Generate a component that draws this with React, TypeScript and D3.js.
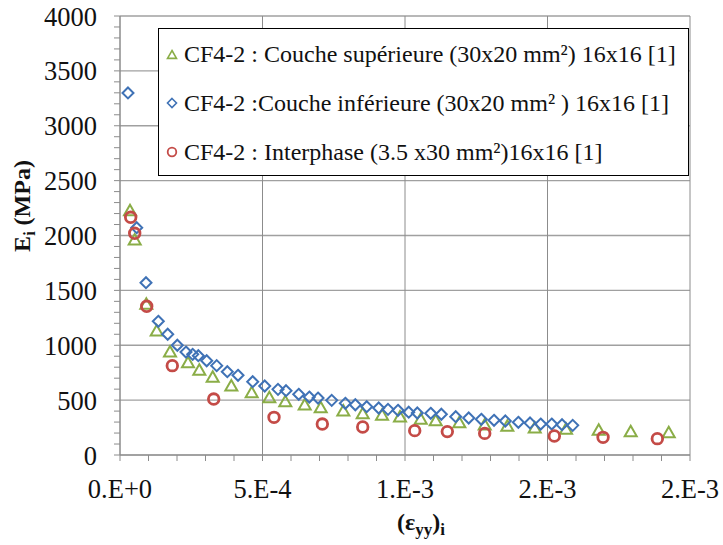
import React from "react";
import * as d3 from "d3";

const xTickValues = [0, 0.0005, 0.001, 0.0015, 0.002];
const xTickLabels = ["0.E+0", "5.E-4", "1.E-3", "2.E-3", "2.E-3"];
const yTickValues = [0, 500, 1000, 1500, 2000, 2500, 3000, 3500, 4000];

const supX = [3.51e-5, 5.16e-5, 9.23e-5, 1.288e-4, 1.755e-4, 2.386e-4, 2.783e-4, 3.253e-4, 3.906e-4, 4.621e-4, 5.239e-4, 5.8e-4, 6.481e-4, 7.043e-4, 7.836e-4, 8.516e-4, 9.194e-4, 9.825e-4, 1.0552e-3, 1.1078e-3, 1.1906e-3, 1.2797e-3, 1.359e-3, 1.4552e-3, 1.565e-3, 1.6797e-3, 1.792e-3, 1.9254e-3];
const supY = [2226, 1959, 1373, 1130, 939, 841, 772, 708, 629, 568, 522, 486, 456, 431, 401, 376, 362, 346, 325, 313, 294, 273, 261, 246, 234, 225, 212, 203];

const infX = [2.8e-5, 5.86e-5, 9.12e-5, 1.344e-4, 1.674e-4, 2.011e-4, 2.316e-4, 2.551e-4, 2.748e-4, 3.042e-4, 3.393e-4, 3.765e-4, 4.141e-4, 4.656e-4, 5.078e-4, 5.544e-4, 5.825e-4, 6.271e-4, 6.643e-4, 6.948e-4, 7.429e-4, 7.906e-4, 8.257e-4, 8.657e-4, 9.078e-4, 9.404e-4, 9.755e-4, 1.0131e-3, 1.0432e-3, 1.0903e-3, 1.1275e-3, 1.178e-3, 1.2236e-3, 1.2678e-3, 1.3124e-3, 1.352e-3, 1.3977e-3, 1.4387e-3, 1.4762e-3, 1.5149e-3, 1.551e-3, 1.5885e-3];
const infY = [3299, 2071, 1570, 1218, 1100, 1000, 938, 917, 905, 859, 814, 759, 726, 668, 629, 598, 586, 553, 528, 519, 498, 471, 458, 440, 428, 416, 407, 390, 383, 380, 371, 349, 337, 325, 316, 310, 298, 292, 282, 282, 276, 270];

const intX = [3.75e-5, 5.16e-5, 9.37e-5, 1.835e-4, 3.288e-4, 5.404e-4, 7.099e-4, 8.516e-4, 1.0341e-3, 1.1485e-3, 1.2797e-3, 1.524e-3, 1.6949e-3, 1.8854e-3];
const intY = [2166, 2020, 1355, 814, 510, 343, 282, 255, 222, 213, 197, 173, 161, 149];

const legendLabels = [
  "CF4-2 : Couche supérieure (30x20 mm²) 16x16 [1]",
  "CF4-2 :Couche inférieure (30x20 mm² ) 16x16 [1]",
  "CF4-2 : Interphase (3.5 x30 mm²)16x16 [1]",
];

const GREEN = "#8AAD47";
const BLUE = "#3F72B6";
const RED = "#C44B47";
const FONT = "'Liberation Serif', 'Times New Roman', serif";

const tri = (s: number) => `M0,${-s}L${s},${s * 0.75}L${-s},${s * 0.75}Z`;
const dia = (s: number) => `M0,${-s}L${s},0L0,${s}L${-s},0Z`;

export default function App() {
  const left = 120, right = 690, top = 16, bottom = 455;
  const x = d3.scaleLinear().domain([0, 0.002]).range([left, right]);
  const y = d3.scaleLinear().domain([0, 4000]).range([bottom, top]);
  const xMinor = d3.range(0, 21).map((i) => i * 0.0001);
  const yMinor = d3.range(0, 41).map((i) => i * 100);
  const grid = "#8C8C8C";

  return (
    <svg width={723} height={545} style={{ position: "absolute", left: 0, top: 0, background: "#fff" }} fontFamily={FONT}>
      <rect x={0} y={0} width={723} height={545} fill="#fff" />
      {yTickValues.map((v) => (
        <line key={"hg" + v} x1={left} x2={right} y1={y(v)} y2={y(v)} stroke="#A0A0A0" strokeWidth={1.3} />
      ))}
      {xTickValues.map((v) => (
        <line key={"vg" + v} x1={x(v)} x2={x(v)} y1={top} y2={bottom} stroke={grid} strokeWidth={1} />
      ))}
      <line x1={left} x2={left} y1={top} y2={bottom} stroke={grid} strokeWidth={1} />
      <line x1={left} x2={right} y1={bottom} y2={bottom} stroke={grid} strokeWidth={1} />
      {yMinor.map((v) => (
        <line key={"yt" + v} x1={left - 6} x2={left} y1={y(v)} y2={y(v)} stroke={grid} strokeWidth={1} />
      ))}
      {xMinor.map((v) => (
        <line key={"xt" + v} x1={x(v)} x2={x(v)} y1={bottom} y2={bottom + 6} stroke={grid} strokeWidth={1} />
      ))}
      {yTickValues.map((v) => (
        <text key={"yl" + v} x={97} y={y(v) + 9.5} textAnchor="end" fontSize={26.5} fill="#111">
          {v}
        </text>
      ))}
      {xTickValues.map((v, i) => (
        <text key={"xl" + v} x={x(v)} y={498} textAnchor="middle" fontSize={26.5} fill="#111">
          {xTickLabels[i]}
        </text>
      ))}
      <text transform="translate(30,206) rotate(-90)" textAnchor="middle" fontSize={24} fontWeight="bold" fill="#111">
        <tspan>E</tspan>
        <tspan fontSize={16} dy={5}>i</tspan>
        <tspan dy={-5}> (MPa)</tspan>
      </text>
      <text x={421} y={530} textAnchor="middle" fontSize={24} fontWeight="bold" fill="#111">
        <tspan>(ε</tspan>
        <tspan fontSize={17} dy={5}>yy</tspan>
        <tspan dy={-5}>)</tspan>
        <tspan fontSize={17} dy={5}>i</tspan>
      </text>
      {supX.map((v, i) => (
        <path key={"s" + i} d={tri(6)} transform={`translate(${x(v)},${y(supY[i])})`} fill="none" stroke={GREEN} strokeWidth={2} />
      ))}
      {infX.map((v, i) => (
        <path key={"b" + i} d={dia(5.5)} transform={`translate(${x(v)},${y(infY[i])})`} fill="none" stroke={BLUE} strokeWidth={2} />
      ))}
      {intX.map((v, i) => (
        <circle key={"r" + i} cx={x(v)} cy={y(intY[i])} r={5.3} fill="none" stroke={RED} strokeWidth={2.8} />
      ))}
      <rect x={158.5} y={28.5} width={530} height={147} fill="#fff" stroke="#000" strokeWidth={1} />
      {legendLabels.map((l, i) => {
        const cy = 54 + i * 49;
        return (
          <g key={"lg" + i}>
            {i === 0 && <path d={tri(4.5)} transform={`translate(172,${cy + 1})`} fill="none" stroke={GREEN} strokeWidth={1.6} />}
            {i === 1 && <path d={dia(4.5)} transform={`translate(172,${cy})`} fill="none" stroke={BLUE} strokeWidth={1.6} />}
            {i === 2 && <circle cx={172} cy={cy} r={4.3} fill="none" stroke={RED} strokeWidth={1.8} />}
            <text x={184} y={cy + 7.7} fontSize={24} fill="#111">
              {l}
            </text>
          </g>
        );
      })}
    </svg>
  );
}
